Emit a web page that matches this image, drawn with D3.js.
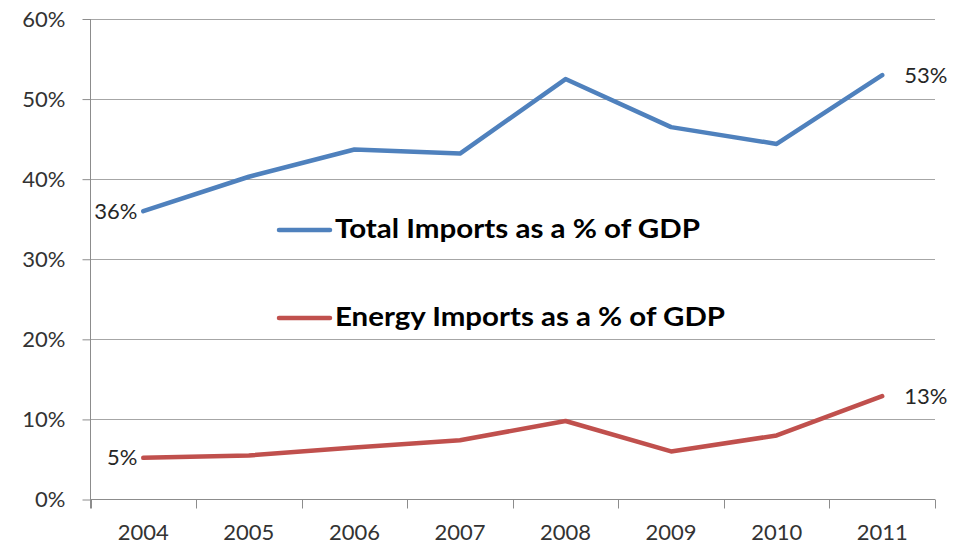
<!DOCTYPE html>
<html>
<head>
<meta charset="utf-8">
<script src="https://cdn.jsdelivr.net/npm/d3@7"></script>
<style>
  html, body { margin: 0; padding: 0; background: #ffffff; }
  svg { display: block; }
  text { font-family: Lato, "Open Sans", sans-serif; }
</style>
</head>
<body>
<svg id="chart" width="969" height="552"></svg>
<script>
// Years on the category axis
const years = ["2004", "2005", "2006", "2007", "2008", "2009", "2010", "2011"];
// Total imports as a share of GDP
const totalImports = [0.360, 0.403, 0.437, 0.432, 0.525, 0.465, 0.444, 0.530];
// Energy imports as a share of GDP
const energyImports = [0.052, 0.055, 0.065, 0.074, 0.098, 0.060, 0.080, 0.129];
// Y axis ticks
const yTicks = [0, 0.1, 0.2, 0.3, 0.4, 0.5, 0.6];
// Series names for the legend
const seriesNames = ["Total Imports as a % of GDP", "Energy Imports as a % of GDP"];

const svg = d3.select("#chart");
const plotLeft = 90.5, plotRight = 935, plotTop = 19, plotBottom = 499.5;

const x = d3.scaleBand().domain(years).range([plotLeft, plotRight]).paddingInner(0).paddingOuter(0);
const y = d3.scaleLinear().domain([0, 0.6]).range([plotBottom, plotTop]);

const axisColor = "#8c8c8c";
const gridColor = "#a6a6a6";

// horizontal gridlines
svg.append("g")
  .selectAll("line")
  .data(yTicks.filter(d => d > 0))
  .join("line")
  .attr("x1", plotLeft).attr("x2", plotRight)
  .attr("y1", d => Math.round(y(d)) + 0.5).attr("y2", d => Math.round(y(d)) + 0.5)
  .attr("stroke", gridColor).attr("stroke-width", 1);

// y axis with outward ticks
const yAxis = svg.append("g")
  .attr("transform", `translate(${plotLeft},0)`)
  .call(d3.axisLeft(y).tickValues(yTicks).tickFormat(d3.format(".0%")).tickSize(8).tickPadding(17))
  .call(g => g.select(".domain").remove());
yAxis.selectAll(".tick line").attr("stroke", axisColor);
yAxis.selectAll(".tick text")
  .attr("fill", "#333333").style("font-size", "22px").style("font-family", "Lato, sans-serif");
// vertical axis line
svg.append("line")
  .attr("x1", plotLeft).attr("x2", plotLeft).attr("y1", plotTop).attr("y2", plotBottom + 9)
  .attr("stroke", axisColor).attr("stroke-width", 1);

// x axis: baseline, boundary ticks, centred labels
svg.append("line")
  .attr("x1", plotLeft).attr("x2", plotRight).attr("y1", plotBottom).attr("y2", plotBottom)
  .attr("stroke", axisColor).attr("stroke-width", 1);
const boundaries = years.map(d => x(d)).concat([x(years[years.length - 1]) + x.bandwidth()]);
svg.append("g")
  .selectAll("line")
  .data(boundaries)
  .join("line")
  .attr("x1", d => Math.round(d) + 0.5).attr("x2", d => Math.round(d) + 0.5)
  .attr("y1", plotBottom).attr("y2", plotBottom + 9)
  .attr("stroke", axisColor).attr("stroke-width", 1);
const xAxis = svg.append("g")
  .attr("transform", `translate(0,${plotBottom})`)
  .call(d3.axisBottom(x).tickSize(0).tickPadding(25))
  .call(g => g.select(".domain").remove());
xAxis.selectAll(".tick text")
  .attr("fill", "#333333").style("font-size", "22px").style("font-family", "Lato, sans-serif");

// series lines
const cx = d => x(d) + x.bandwidth() / 2;
const line = d3.line().x((d, i) => cx(years[i])).y(d => y(d));
const series = [
  { values: totalImports, color: "#4f81bd" },
  { values: energyImports, color: "#c0504d" }
];
svg.append("g")
  .selectAll("path")
  .data(series)
  .join("path")
  .attr("d", d => line(d.values))
  .attr("fill", "none")
  .attr("stroke", d => d.color)
  .attr("stroke-width", 4.5)
  .attr("stroke-linejoin", "round")
  .attr("stroke-linecap", "round");

// end-point value labels
const fmt = d3.format(".0%");
const endLabels = [];
series.forEach(s => {
  const n = s.values.length;
  endLabels.push({ x: cx(years[0]) - 6, y: y(s.values[0]), anchor: "end", text: fmt(s.values[0]) });
  endLabels.push({ x: cx(years[n - 1]) + 22, y: y(s.values[n - 1]), anchor: "start", text: fmt(s.values[n - 1]) });
});
svg.append("g")
  .selectAll("text")
  .data(endLabels)
  .join("text")
  .attr("x", d => d.x).attr("y", d => d.y + 2)
  .attr("text-anchor", d => d.anchor)
  .attr("dominant-baseline", "middle")
  .attr("fill", "#262626")
  .style("font-size", "22px")
  .text(d => d.text);

// legend inside the plot area
const legendRows = [
  { name: seriesNames[0], color: series[0].color, y: 230, width: 365 },
  { name: seriesNames[1], color: series[1].color, y: 318, width: 390 }
];
const lg = svg.append("g").selectAll("g").data(legendRows).join("g");
lg.append("line")
  .attr("x1", 279).attr("x2", 330)
  .attr("y1", d => d.y).attr("y2", d => d.y)
  .attr("stroke", d => d.color).attr("stroke-width", 4.5).attr("stroke-linecap", "round");
lg.append("text")
  .attr("x", 335).attr("y", d => d.y + 8)
  .attr("fill", "#000000")
  .style("font-size", "27px").style("font-weight", "bold")
  .attr("textLength", d => d.width).attr("lengthAdjust", "spacingAndGlyphs")
  .text(d => d.name);
</script>
</body>
</html>
